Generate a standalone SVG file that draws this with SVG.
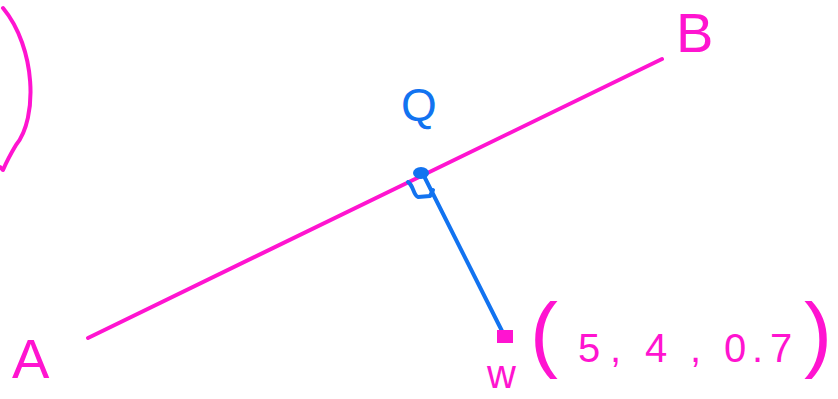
<svg xmlns="http://www.w3.org/2000/svg" width="838" height="399" viewBox="0 0 838 399">
<style>
.pk{fill:#ff14d0;font-family:"Liberation Sans",Arial,sans-serif}
.bl{fill:#1273f0;font-family:"Liberation Sans",Arial,sans-serif}
.ls{fill:none;stroke-linecap:round;stroke-linejoin:round;stroke-width:4}
.pkS{stroke:#ff14d0}
.blS{stroke:#1273f0}
.paren{font-size:84px;font-weight:300}
</style>
<rect width="838" height="399" fill="#ffffff"/>
<g id="arc">
<path class="ls pkS" d="M3,8 C36,48 38,118 16,145 C10,155 6,163 3,170 L0,167"/>
</g>
<g id="connectors">
<line class="ls pkS" x1="88" y1="338" x2="662" y2="59"/>
<line class="ls blS" x1="425" y1="178" x2="503" y2="333"/>
<path class="ls blS" d="M408,182 C414,186 413,195 418,197 L430,196 L433,190"/>
</g>
<g id="A"><text class="pk" x="12" y="378" font-size="56">A</text></g>
<g id="B"><text class="pk" x="676" y="52" font-size="56">B</text></g>
<g id="Q">
<text class="bl" x="401" y="121" font-size="46">Q</text>
<ellipse cx="421" cy="173" rx="8" ry="6" fill="#1273f0"/>
</g>
<g id="W">
<rect x="497" y="330" width="16" height="13" fill="#ff14d0"/>
<text class="pk" x="487" y="388" font-size="40">w</text>
<text class="pk" y="362" font-size="40"><tspan class="paren" x="530">(</tspan><tspan x="578">5</tspan><tspan x="610">,</tspan><tspan x="645">4</tspan><tspan x="690">,</tspan><tspan x="724">0</tspan><tspan x="752">.</tspan><tspan x="770">7</tspan><tspan class="paren" x="804">)</tspan></text>
</g>
</svg>
